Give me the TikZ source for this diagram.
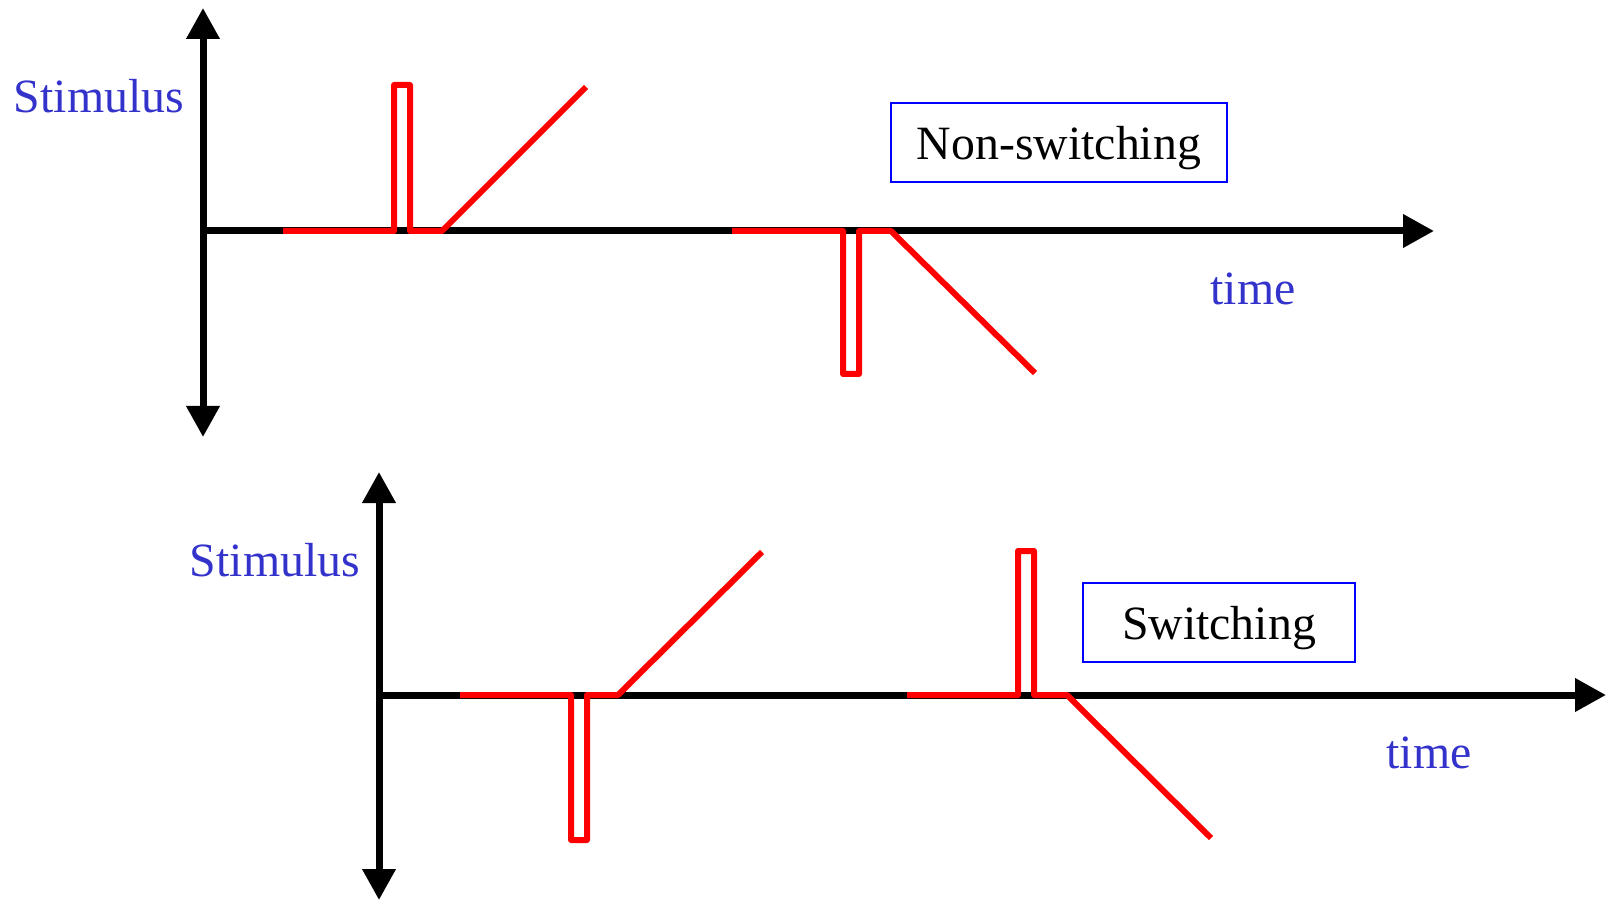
\documentclass[tikz,border=0pt]{standalone}
\usepackage{fontspec}
\setmainfont{Liberation Serif}
\usetikzlibrary{arrows.meta}
\definecolor{labelblue}{RGB}{51,51,204}
\definecolor{boxblue}{RGB}{0,0,255}

\begin{document}
\begin{tikzpicture}[
  x=0.5pt, y=0.5pt,
  axis/.style={line width=3.5pt, -{Triangle[length=15.5pt,width=16pt]}},
  signal/.style={line width=3pt, red, line join=round},
  lbl/.style={font=\fontsize{23.9}{28}\selectfont, text=labelblue, inner sep=0pt},
  tag/.style={draw=boxblue, line width=1pt, inner sep=0pt, minimum height=39.5pt,
    text depth=0pt, font=\fontsize{23.9}{28}\selectfont}
]
\useasboundingbox (0,0) rectangle (1606,901);

% non-switching panel
\begin{scope}[shift={(203,670)}]
  \coordinate (o1) at (0,0);
  \coordinate (up1) at (0,223);
  \coordinate (dn1) at (0,-206);
  \coordinate (t1) at (1231,0);
  \draw[axis] (o1) -- (up1);
  \draw[axis] (o1) -- (dn1);
  \draw[axis] (o1) -- (t1);
  \draw[signal] (80,0) -- ++(111,0) -- ++(0,146) -- ++(16,0) -- ++(0,-146)
    -- ++(32,0) -- ++(144,144);
  \draw[signal] (529,0) -- ++(111,0) -- ++(0,-143) -- ++(16,0) -- ++(0,143)
    -- ++(32,0) -- ++(144,-142);
  \node[lbl] (stim1) at (-104,135) {Stimulus};
  \node[lbl] (time1) at (1050,-58) {time};
  \node[tag, minimum width=168pt] (nonsw) at (856,88.5) {Non-switching};
\end{scope}

% switching panel
\begin{scope}[shift={(379,206)}]
  \coordinate (o2) at (0,0);
  \coordinate (up2) at (0,223);
  \coordinate (dn2) at (0,-205);
  \coordinate (t2) at (1227,0);
  \draw[axis] (o2) -- (up2);
  \draw[axis] (o2) -- (dn2);
  \draw[axis] (o2) -- (t2);
  \draw[signal] (81,0) -- ++(111,0) -- ++(0,-145) -- ++(16,0) -- ++(0,145)
    -- ++(31,0) -- ++(144,143);
  \draw[signal] (528,0) -- ++(111,0) -- ++(0,144) -- ++(16,0) -- ++(0,-144)
    -- ++(33,0) -- ++(144,-143);
  \node[lbl] (stim2) at (-104,135) {Stimulus};
  \node[lbl] (time2) at (1050,-58) {time};
  \node[tag, minimum width=136pt] (sw) at (840,72.5) {Switching};
\end{scope}
\end{tikzpicture}
\end{document}
